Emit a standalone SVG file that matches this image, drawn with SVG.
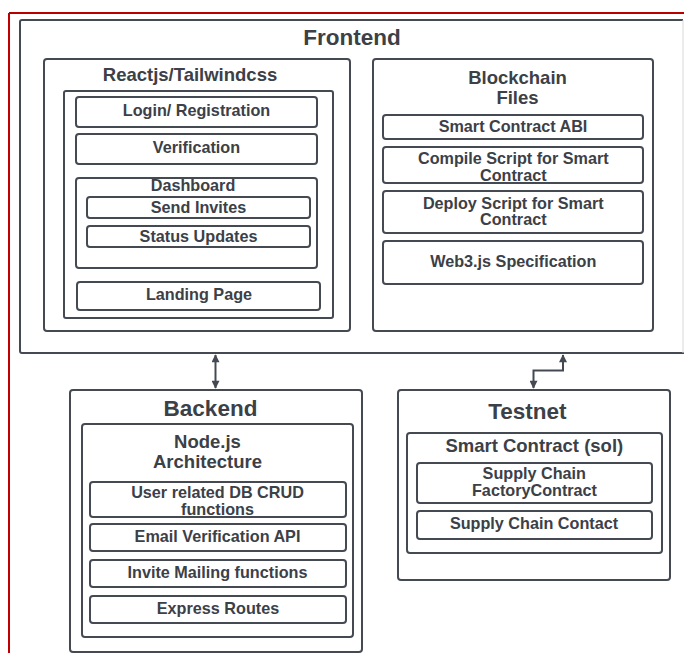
<svg xmlns="http://www.w3.org/2000/svg" width="684" height="653" viewBox="0 0 684 653">
<style>
.b{fill:#fff;stroke:#454a52;stroke-width:2}
.t{font-family:"Liberation Sans",Arial,sans-serif;font-weight:bold;fill:#3c4047;text-anchor:middle}
.xl{font-size:22.5px}
.l{font-size:18.5px}
.m{font-size:16.2px}
.c{fill:none;stroke:#454a52;stroke-width:2}
</style>
<defs>
<marker id="ah" viewBox="0 0 10 10" refX="9" refY="5" markerWidth="4.5" markerHeight="4" orient="auto-start-reverse" markerUnits="strokeWidth">
<path d="M0,0 L10,5 L0,10 z" fill="#454a52"/>
</marker>
</defs>
<rect width="684" height="653" fill="#fff"/>
<line x1="9" y1="13" x2="684" y2="13" stroke="#b80000" stroke-width="2"/>
<line x1="9" y1="13" x2="9" y2="653" stroke="#c00000" stroke-width="2"/>

<g id="frontend">
<path class="b" d="M683,20 H22 Q20,20 20,22 V351 Q20,353 22,353 H684"/>
<line x1="683" y1="20" x2="683" y2="353" stroke="#d8d8d8" stroke-width="1"/>
<text class="t xl" x="352" y="45">Frontend</text>
</g>

<g id="reactjs">
<rect class="b" x="44" y="59" width="306" height="272" rx="3"/>
<text class="t l" x="190" y="81">Reactjs/Tailwindcss</text>
<rect class="b" x="64" y="91" width="269" height="227" rx="2"/>
</g>
<g id="login"><rect class="b" x="76" y="97" width="241" height="30" rx="3"/><text class="t m" x="196.5" y="116">Login/ Registration</text></g>
<g id="verification"><rect class="b" x="76" y="134" width="241" height="30" rx="3"/><text class="t m" x="196.5" y="153">Verification</text></g>
<g id="dashboard"><rect class="b" x="76" y="178" width="241" height="90" rx="3"/><text class="t m" x="193" y="191">Dashboard</text></g>
<g id="send-invites"><rect class="b" x="87" y="197" width="223" height="21" rx="3"/><text class="t m" x="198.5" y="213">Send Invites</text></g>
<g id="status-updates"><rect class="b" x="87" y="226" width="223" height="21" rx="3"/><text class="t m" x="198.5" y="241.5">Status Updates</text></g>
<g id="landing"><rect class="b" x="77" y="282" width="243" height="28" rx="3"/><text class="t m" x="199" y="299.5">Landing Page</text></g>

<g id="blockchain">
<rect class="b" x="373" y="59" width="280" height="272" rx="3"/>
<text class="t l" x="517.5" y="84">Blockchain</text>
<text class="t l" x="517.5" y="104">Files</text>
</g>
<g id="abi"><rect class="b" x="383" y="115" width="260" height="24" rx="3"/><text class="t m" x="513" y="132">Smart Contract ABI</text></g>
<g id="compile"><rect class="b" x="383" y="147" width="260" height="36" rx="3"/><text class="t m" x="513.3" y="163.5">Compile Script for Smart</text><text class="t m" x="513.3" y="180.5">Contract</text></g>
<g id="deploy"><rect class="b" x="383" y="191" width="260" height="42" rx="3"/><text class="t m" x="513.3" y="208.5">Deploy Script for Smart</text><text class="t m" x="513.3" y="225">Contract</text></g>
<g id="web3"><rect class="b" x="383" y="241" width="260" height="43" rx="3"/><text class="t m" x="513.3" y="267">Web3.js Specification</text></g>

<g id="backend">
<rect class="b" x="70" y="390" width="292" height="262" rx="3"/>
<text class="t xl" x="210.5" y="416">Backend</text>
<rect class="b" x="82" y="424" width="271" height="213" rx="3"/>
<text class="t l" x="207.5" y="447.5">Node.js</text>
<text class="t l" x="207.5" y="467.5">Architecture</text>
</g>
<g id="crud"><rect class="b" x="90" y="482" width="256" height="35" rx="3"/><text class="t m" x="217.5" y="497.5">User related DB CRUD</text><text class="t m" x="217.5" y="514.5">functions</text></g>
<g id="email"><rect class="b" x="90" y="524" width="256" height="27" rx="3"/><text class="t m" x="217.5" y="542">Email Verification API</text></g>
<g id="invite"><rect class="b" x="90" y="560" width="256" height="27" rx="3"/><text class="t m" x="217.5" y="577.5">Invite Mailing functions</text></g>
<g id="express"><rect class="b" x="90" y="596" width="256" height="27" rx="3"/><text class="t m" x="218" y="613.5">Express Routes</text></g>

<g id="testnet">
<rect class="b" x="398" y="390" width="272" height="190" rx="3"/>
<text class="t xl" x="527.3" y="418.5">Testnet</text>
<rect class="b" x="407" y="433" width="255" height="120" rx="3"/>
<text class="t l" x="534.3" y="451.5">Smart Contract (sol)</text>
</g>
<g id="factory"><rect class="b" x="417" y="463" width="235" height="40" rx="3"/><text class="t m" x="534.3" y="479">Supply Chain</text><text class="t m" x="534.5" y="496">FactoryContract</text></g>
<g id="contact"><rect class="b" x="417" y="511" width="235" height="28" rx="3"/><text class="t m" x="534" y="528.5">Supply Chain Contact</text></g>

<g id="connectors">
<path class="c" d="M215.5,355 V388" marker-start="url(#ah)" marker-end="url(#ah)"/>
<path class="c" d="M563,355 V370.5 H533.5 V388" marker-start="url(#ah)" marker-end="url(#ah)"/>
</g>
</svg>
